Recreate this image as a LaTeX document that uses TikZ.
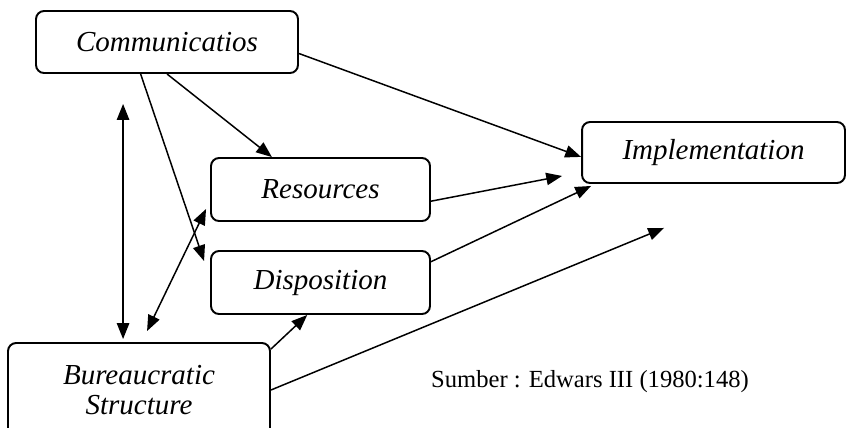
\documentclass[tikz,border=0pt]{standalone}
\usepackage{fontspec}
\setmainfont{Liberation Serif}
\usetikzlibrary{arrows.meta, calc}
\tikzset{
  blok/.style={draw, line width=1.1pt, rounded corners=0.16cm, inner sep=0pt, align=center,
    font=\fontsize{16.5}{17.5}\selectfont\itshape},
  panah/.style={line width=0.85pt, -{Triangle[length=9pt,width=7pt]}},
  duapanah/.style={line width=0.85pt, {Triangle[length=9pt,width=7pt]}-{Triangle[length=9pt,width=7pt]}},
}
\begin{document}
\begin{tikzpicture}[x=0.02cm, y=-0.02cm]
      \useasboundingbox (0,0) rectangle (848,427);
      \node[blok, minimum width=5.24cm, minimum height=1.24cm] (comm) at (167,42) {Communicatios};
      \node[blok, minimum width=4.38cm, minimum height=1.26cm] (res) at (320.5,189.5) {Resources};
      \node[blok, minimum width=4.38cm, minimum height=1.26cm] (disp) at (320.5,282.5) {Disposition};
      \node[blok, minimum width=5.26cm, minimum height=1.22cm] (impl) at (713.5,152.5) {Implementation};
      \node[blok, minimum width=5.24cm, minimum height=1.88cm] (bur) at (139,390) {Bureaucratic\\Structure};
      \node[font=\fontsize{14}{16}\selectfont] (sumber) at (590,382) {Sumber : Edwars III (1980:148)};

      % ujung panah yang bebas
      \coordinate (resend) at ($(impl.south west)+(-19,-8)$);
      \coordinate (burend) at ($(impl.south west)+(83,44)$);

      \draw[panah] ($(comm.south west)!0.5!(comm.south east)$) -- ($(res.north west)!0.28!(res.north east)$);
      \draw[panah] ($(comm.south west)!0.4!(comm.south east)$) -- ($(disp.north west)+(-6,11)$);
      \draw[panah] ($(comm.north east)!0.68!(comm.south east)$) -- ($(impl.north west)!0.57!(impl.south west)$);
      \draw[panah] ($(res.north east)!0.68!(res.south east)$) -- (resend);
      \draw[panah] ($(disp.north east)!0.18!(disp.south east)$) -- ($(impl.south west)+(10,2)$);
      \draw[panah] (bur.east) -- (burend);
      \draw[panah] ($(bur.north east)+(0,7)$) -- ($(disp.south west)!0.44!(disp.south east)$);

      \draw[duapanah] ($(comm.south west)+(88,30)$) -- ($(bur.north west)+(116,-3)$);
      \draw[duapanah] ($(bur.north west)+(140,-11)$) -- ($(res.south west)+(-4,-13)$);
\end{tikzpicture}
\end{document}
